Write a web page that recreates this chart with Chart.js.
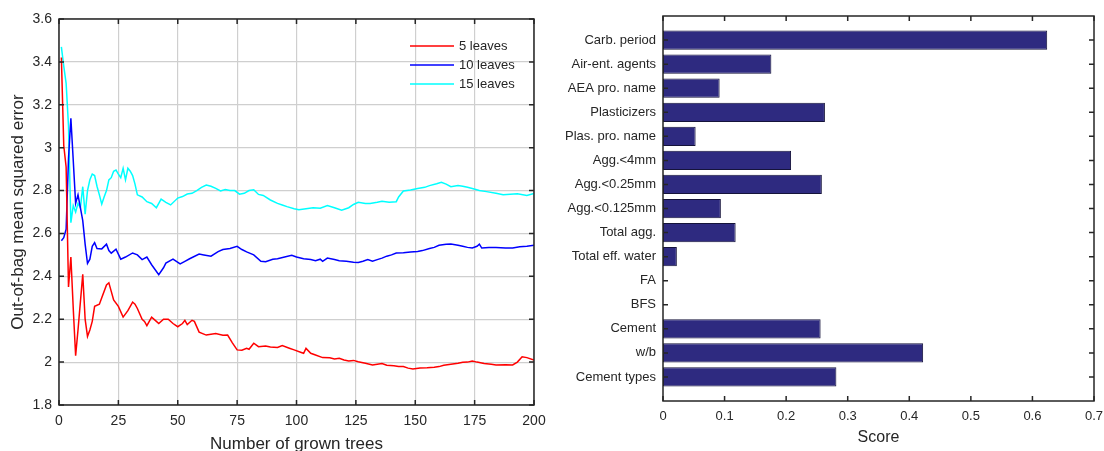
<!DOCTYPE html>
<html>
<head>
<meta charset="utf-8">
<script src="https://cdn.jsdelivr.net/npm/chart.js@4.4.1/dist/chart.umd.min.js"></script>
<style>
  html, body { margin: 0; padding: 0; background: #fff; }
  #wrap { position: relative; width: 1104px; height: 451px; overflow: hidden; }
  canvas { position: absolute; top: 0; }
  #oob { left: 0; }
  #imp { left: 550px; }
</style>
</head>
<body>
<div id="wrap">
  <canvas id="oob" width="550" height="451"></canvas>
  <canvas id="imp" width="554" height="451"></canvas>
</div>
<script>
// out-of-bag error vs number of grown trees, [trees, mse]
const leaves5 = [
  [1,3.42],[2,3.01],[3,2.91],[4,2.35],[5,2.49],[6,2.25],[7,2.03],[8,2.15],[9,2.28],[10,2.41],
  [11,2.2],[12,2.12],[13,2.15],[14,2.19],[15,2.26],[17,2.27],[18,2.3],[20,2.36],[21,2.37],[22,2.33],
  [23,2.29],[25,2.26],[27,2.21],[29,2.24],[31,2.28],[32,2.27],[33,2.25],[35,2.2],[36,2.19],[37,2.17],
  [39,2.21],[41,2.19],[42,2.18],[44,2.2],[46,2.2],[48,2.18],[50,2.165],[52,2.18],[53,2.195],[54,2.175],
  [56,2.195],[57,2.19],[59,2.14],[62,2.126],[66,2.133],[69,2.125],[71,2.126],[73,2.09],[75,2.057],[77,2.055],
  [79,2.064],[80,2.06],[82,2.088],[84,2.072],[87,2.075],[89,2.07],[92,2.068],[94,2.077],[97,2.065],[99,2.057],
  [102,2.045],[103,2.041],[104,2.064],[106,2.041],[108,2.033],[111,2.021],[114,2.02],[116,2.015],[118,2.018],[120,2.01],
  [122,2.005],[124,2.008],[126,2.002],[129,1.995],[132,1.987],[134,1.99],[136,1.993],[138,1.985],[141,1.983],[143,1.98],
  [145,1.979],[147,1.972],[149,1.968],[152,1.973],[155,1.974],[158,1.976],[160,1.979],[162,1.985],[165,1.99],[168,1.995],
  [170,1.999],[172,2.0],[174,2.005],[176,2.0],[179,1.994],[182,1.99],[184,1.987],[188,1.988],[191,1.987],[193,2.0],
  [195,2.025],[197,2.021],[200,2.01]
];
const leaves10 = [
  [1,2.566],[2,2.58],[3,2.62],[4,2.95],[5,3.137],[6,2.94],[7,2.74],[8,2.78],[9,2.72],[10,2.66],
  [11,2.55],[12,2.46],[13,2.48],[14,2.54],[15,2.557],[16,2.53],[18,2.528],[20,2.55],[21,2.52],[22,2.508],
  [24,2.527],[26,2.48],[28,2.49],[31,2.509],[33,2.5],[35,2.478],[37,2.49],[39,2.454],[42,2.408],[44,2.44],
  [45,2.462],[48,2.48],[51,2.458],[53,2.47],[55,2.482],[59,2.504],[61,2.5],[64,2.494],[67,2.515],[69,2.525],
  [72,2.53],[75,2.54],[77,2.525],[79,2.514],[82,2.5],[85,2.47],[87,2.468],[90,2.48],[92,2.482],[95,2.49],
  [98,2.498],[100,2.49],[103,2.482],[106,2.478],[108,2.473],[110,2.48],[111,2.47],[113,2.485],[116,2.478],[118,2.473],
  [121,2.47],[124,2.466],[126,2.465],[128,2.47],[130,2.478],[132,2.47],[134,2.478],[136,2.485],[138,2.494],[140,2.5],
  [142,2.509],[145,2.51],[148,2.514],[151,2.516],[153,2.52],[156,2.53],[158,2.535],[160,2.545],[163,2.55],[165,2.551],
  [168,2.545],[170,2.54],[172,2.535],[174,2.532],[176,2.54],[177,2.55],[178,2.532],[181,2.535],[184,2.535],[188,2.532],
  [191,2.532],[194,2.538],[197,2.54],[200,2.545]
];
const leaves15 = [
  [1,3.47],[2,3.38],[3,3.3],[4,3.1],[5,2.65],[6,2.73],[7,2.7],[8,2.74],[9,2.72],[10,2.818],
  [11,2.69],[12,2.8],[13,2.85],[14,2.877],[15,2.87],[16,2.82],[17,2.78],[18,2.737],[19,2.77],[20,2.8],
  [21,2.85],[22,2.86],[23,2.89],[24,2.896],[25,2.877],[26,2.86],[27,2.904],[28,2.85],[29,2.904],[30,2.89],
  [31,2.87],[32,2.83],[33,2.78],[35,2.77],[37,2.748],[39,2.74],[41,2.72],[43,2.76],[45,2.745],[47,2.733],
  [50,2.765],[52,2.772],[54,2.784],[56,2.787],[58,2.8],[60,2.815],[62,2.826],[64,2.82],[66,2.81],[68,2.798],
  [70,2.805],[72,2.8],[74,2.8],[76,2.783],[78,2.787],[80,2.8],[82,2.804],[84,2.782],[86,2.777],[89,2.756],
  [92,2.74],[94,2.733],[96,2.725],[99,2.715],[101,2.71],[104,2.715],[107,2.72],[110,2.718],[113,2.73],[116,2.72],
  [119,2.708],[122,2.72],[124,2.735],[126,2.745],[129,2.74],[131,2.74],[134,2.745],[136,2.75],[139,2.745],[142,2.748],
  [143,2.77],[145,2.798],[148,2.803],[151,2.81],[154,2.815],[156,2.823],[159,2.832],[161,2.839],[163,2.83],[165,2.818],
  [168,2.823],[170,2.82],[172,2.815],[174,2.81],[177,2.8],[180,2.795],[184,2.787],[187,2.78],[190,2.783],[193,2.785],
  [197,2.777],[200,2.787]
];
const series_names = ['5 leaves', '10 leaves', '15 leaves'];

// predictor importance, top to bottom
const factor_names = ['Carb. period', 'Air-ent. agents', 'AEA pro. name', 'Plasticizers', 'Plas. pro. name',
  'Agg.<4mm', 'Agg.<0.25mm', 'Agg.<0.125mm', 'Total agg.', 'Total eff. water', 'FA', 'BFS',
  'Cement', 'w/b', 'Cement types'];
const factor_scores = [0.624, 0.176, 0.092, 0.263, 0.053, 0.208, 0.258, 0.094, 0.118, 0.0225, 0, 0,
  0.256, 0.4225, 0.2816];

Chart.defaults.font.family = "'Liberation Sans', Arial, sans-serif";
Chart.defaults.color = '#262626';

const ink = '#262626';

// box round the plot area with inward tick marks, like matlab
const matlab_box = {
  id: 'matlab_box',
  afterDraw(chart) {
    const {ctx, chartArea: a, scales} = chart;
    ctx.save();
    ctx.strokeStyle = ink;
    ctx.lineWidth = 1.5;
    ctx.beginPath();
    scales.x.ticks.forEach((t) => {
      const px = scales.x.getPixelForValue(t.value);
      ctx.moveTo(px, a.bottom); ctx.lineTo(px, a.bottom - 5);
      ctx.moveTo(px, a.top); ctx.lineTo(px, a.top + 5);
    });
    scales.y.ticks.forEach((t) => {
      const py = scales.y.getPixelForValue(t.value);
      ctx.moveTo(a.left, py); ctx.lineTo(a.left + 5, py);
      ctx.moveTo(a.right, py); ctx.lineTo(a.right - 5, py);
    });
    ctx.stroke();
    ctx.strokeRect(a.left, a.top, a.right - a.left, a.bottom - a.top);
    ctx.restore();
  }
};

// legend without a frame, top right inside the axes
const line_legend = {
  id: 'line_legend',
  afterDatasetsDraw(chart) {
    const {ctx, chartArea: a} = chart;
    ctx.save();
    ctx.font = "13px 'Liberation Sans', Arial, sans-serif";
    ctx.textBaseline = 'middle';
    ctx.fillStyle = ink;
    chart.data.datasets.forEach((ds, i) => {
      const y = a.top + 27 + i * 19;
      ctx.strokeStyle = ds.borderColor;
      ctx.lineWidth = 1.5;
      ctx.beginPath();
      ctx.moveTo(a.right - 124, y);
      ctx.lineTo(a.right - 80, y);
      ctx.stroke();
      ctx.fillText(ds.label, a.right - 75, y);
    });
    ctx.restore();
  }
};

// keep the plot area where the padding puts it, labels may hang over
const fit_x = (h) => (s) => { s.height = h; s.paddingLeft = 0; s.paddingRight = 0; };
const fit_y = (w) => (s) => { s.width = w; s.paddingTop = 0; s.paddingBottom = 0; };

const colors = ['#ff0000', '#0000ff', '#00ffff'];

new Chart(document.getElementById('oob').getContext('2d'), {
  type: 'line',
  plugins: [matlab_box, line_legend],
  data: {
    datasets: [leaves5, leaves10, leaves15].map((s, i) => ({
      label: series_names[i],
      data: s.map((p) => ({x: p[0], y: p[1]})),
      borderColor: colors[i],
      borderWidth: 1.5,
      pointRadius: 0,
      tension: 0,
      fill: false
    }))
  },
  options: {
    responsive: false,
    animation: false,
    events: [],
    layout: { padding: { left: 0, top: 19, right: 16, bottom: 0 } },
    plugins: { legend: { display: false }, tooltip: { enabled: false } },
    scales: {
      x: {
        type: 'linear', min: 0, max: 200,
        ticks: { stepSize: 25, padding: 8, font: { size: 14 }, color: ink },
        grid: { color: '#cfcfcf', lineWidth: 1.2, drawTicks: false },
        border: { display: false },
        title: { display: true, text: 'Number of grown trees', color: ink,
          font: { size: 17, lineHeight: 1 }, padding: { top: 0, bottom: -1.6 } },
        afterFit: fit_x(46)
      },
      y: {
        type: 'linear', min: 1.8, max: 3.6,
        ticks: { stepSize: 0.2, padding: 7, font: { size: 14 }, color: ink,
          callback: (v) => String(Number(v.toFixed(1))) },
        grid: { color: '#cfcfcf', lineWidth: 1.2, drawTicks: false },
        border: { display: false },
        title: { display: true, text: 'Out-of-bag mean squared error', color: ink,
          font: { size: 17, lineHeight: 1 }, padding: { top: 9.6, bottom: 0 } },
        afterFit: fit_y(59)
      }
    }
  }
});

new Chart(document.getElementById('imp').getContext('2d'), {
  type: 'bar',
  plugins: [matlab_box],
  data: {
    datasets: [{
      data: factor_scores.map((v, i) => ({x: v, y: i + 1})),
      backgroundColor: '#2e2a80',
      borderColor: '#15133a',
      borderWidth: 1,
      borderSkipped: false,
      barPercentage: 0.8,
      categoryPercentage: 1
    }]
  },
  options: {
    indexAxis: 'y',
    responsive: false,
    animation: false,
    events: [],
    layout: { padding: { left: 0, top: 16, right: 10, bottom: 0 } },
    plugins: { legend: { display: false }, tooltip: { enabled: false } },
    scales: {
      x: {
        type: 'linear', min: 0, max: 0.7,
        ticks: { stepSize: 0.1, padding: 8, font: { size: 13 }, color: ink,
          callback: (v) => String(Number(v.toFixed(1))) },
        grid: { display: false, drawTicks: false },
        border: { display: false },
        title: { display: true, text: 'Score', color: ink,
          font: { size: 16, lineHeight: 1 }, padding: { top: 0, bottom: 5 } },
        afterFit: fit_x(50)
      },
      y: {
        type: 'linear', min: 0, max: 16, reverse: true, offset: false,
        afterBuildTicks: (s) => { s.ticks = factor_names.map((_, i) => ({value: i + 1})); },
        ticks: { autoSkip: false, padding: 7, font: { size: 13 }, color: ink,
          callback: (v) => factor_names[v - 1] ?? '' },
        grid: { display: false, drawTicks: false, offset: false },
        border: { display: false },
        afterFit: fit_y(113)
      }
    }
  }
});
</script>
</body>
</html>
